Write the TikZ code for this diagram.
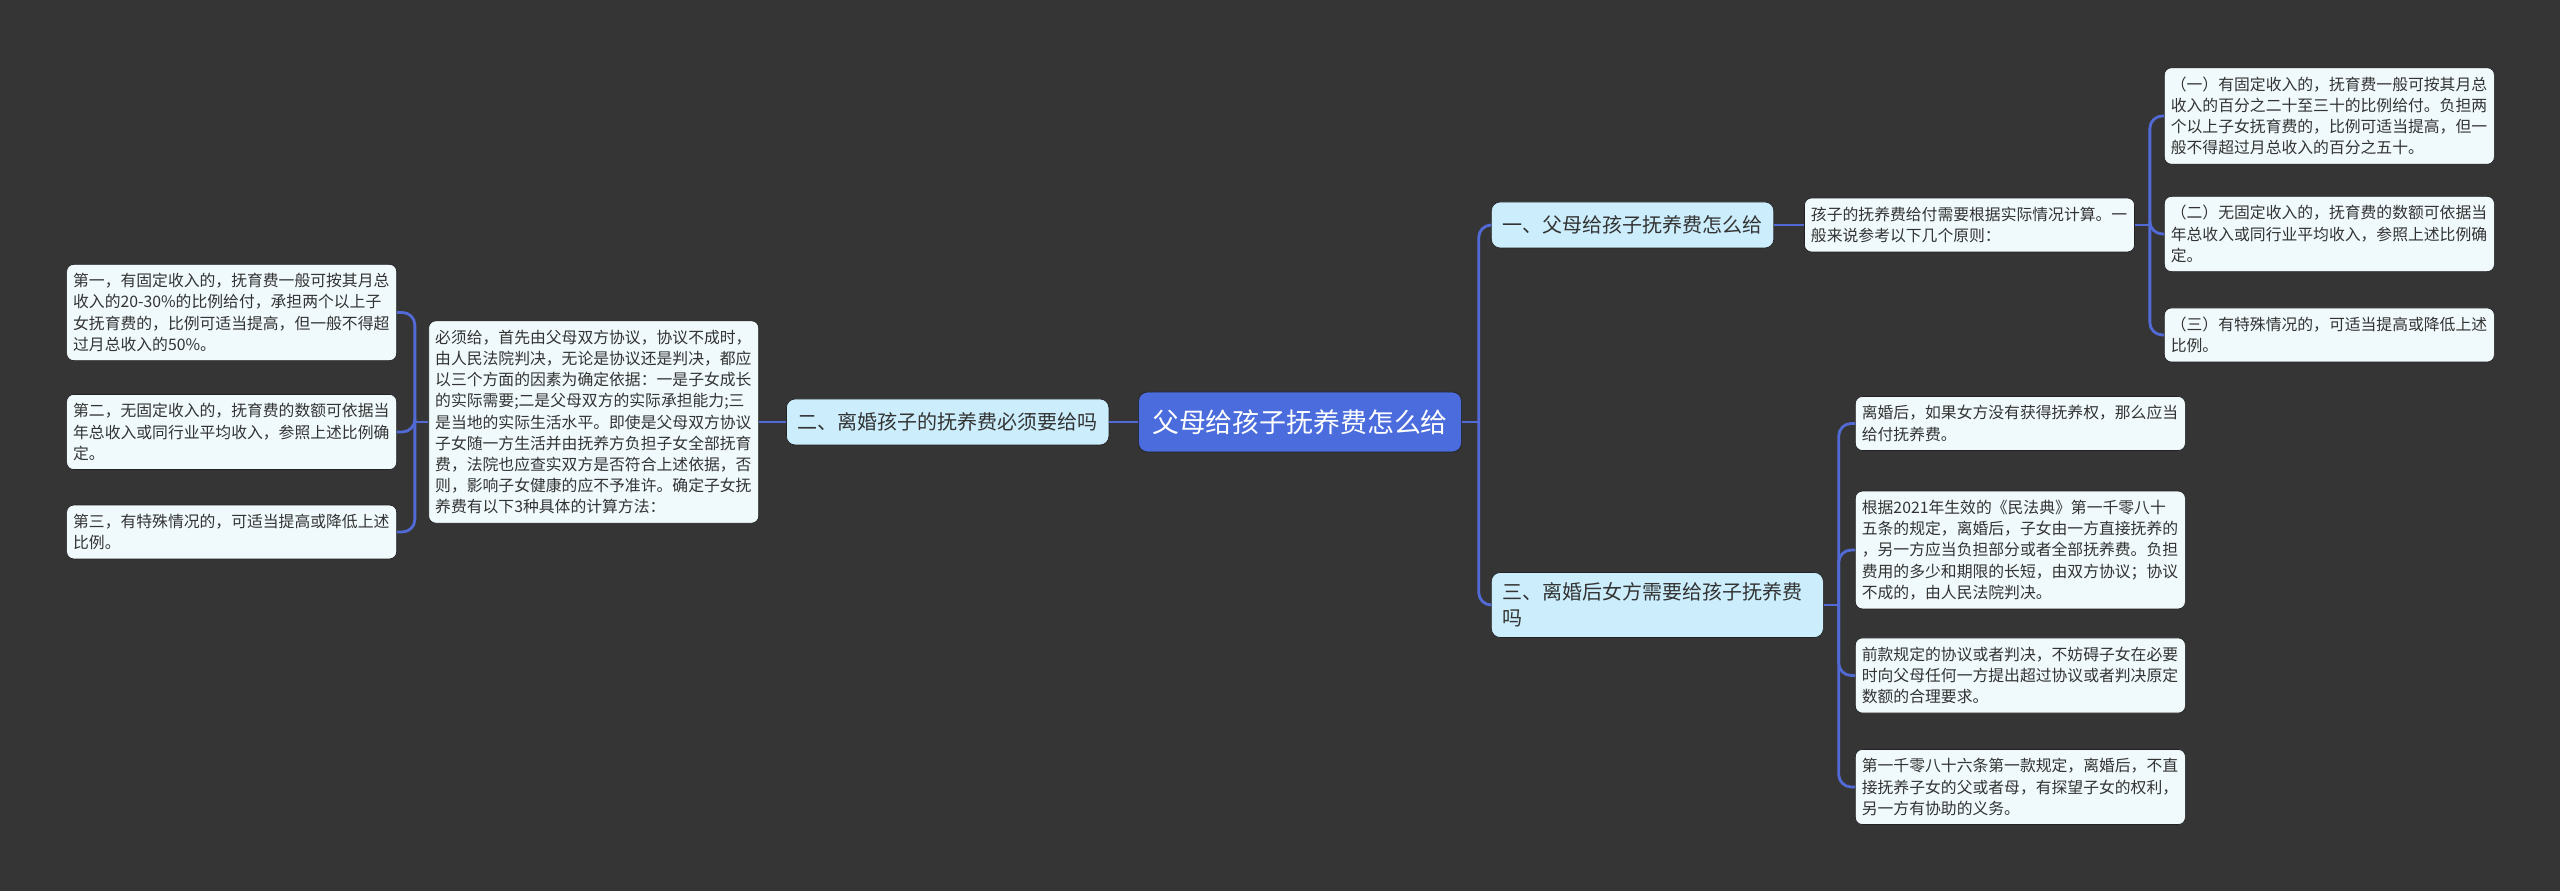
\documentclass[tikz,border=0pt]{standalone}
\usepackage{fontspec}
\setmainfont{Noto Sans CJK SC}
\usetikzlibrary{
  positioning,
  calc
}
\definecolor{canvas}{RGB}{54,53,54}
\definecolor{hub}{RGB}{74,108,220}
\definecolor{link}{RGB}{82,106,214}
\definecolor{topicfill}{RGB}{204,238,252}
\definecolor{leaffill}{RGB}{240,250,252}
\definecolor{ink}{RGB}{51,51,51}
\definecolor{rim}{RGB}{34,34,34}

\begin{document}
\begin{tikzpicture}[
  every node/.style={text=ink},
  hubbox/.style={draw=rim, fill=hub, rounded corners=5pt, text=white,
                 font=\fontsize{15.3}{18}\selectfont,
                 inner xsep=0.27cm, minimum height=1.2cm},
  topicbox/.style={draw=rim, fill=topicfill, rounded corners=5pt, align=left,
                 font=\fontsize{11.4}{15}\selectfont,
                 inner xsep=0.22cm, inner ysep=0.2cm, minimum height=0.92cm},
  leafbox/.style={draw=rim, fill=leaffill, rounded corners=4pt, align=left,
                 font=\fontsize{9}{12.06}\selectfont, text width=6.34cm,
                 inner xsep=0.13cm, inner ysep=0.18cm},
  branch/.style={draw=link, line width=1.6pt, rounded corners=0.25cm}
]

\path[use as bounding box, fill=canvas] (-26,-9.38) rectangle (25.2,8.44);

\node[hubbox] (root) at (0, 0) {父母给孩子抚养费怎么给};

% left branch
\node[topicbox, left=0.58cm of root] (t2) {二、离婚孩子的抚养费必须要给吗};

\node[leafbox, left=0.54cm of t2] (d2) {%
  必须给，首先由父母双方协议，协议不成时，\\
  由人民法院判决，无论是协议还是判决，都应\\
  以三个方面的因素为确定依据：一是子女成长\\
  的实际需要;二是父母双方的实际承担能力;三\\
  是当地的实际生活水平。即使是父母双方协议\\
  子女随一方生活并由抚养方负担子女全部抚育\\
  费，法院也应查实双方是否符合上述依据，否\\
  则，影响子女健康的应不予准许。确定子女抚\\
  养费有以下3种具体的计算方法：};

\node[leafbox, anchor=east] (l1) at (-18.06, 2.19) {%
  第一，有固定收入的，抚育费一般可按其月总\\
  收入的20-30\%的比例给付，承担两个以上子\\
  女抚育费的，比例可适当提高，但一般不得超\\
  过月总收入的50\%。};

\node[leafbox, anchor=east] (l2) at (-18.06, -0.2) {%
  第二，无固定收入的，抚育费的数额可依据当\\
  年总收入或同行业平均收入，参照上述比例确\\
  定。};

\node[leafbox, anchor=east] (l3) at (-18.06, -2.2) {%
  第三，有特殊情况的，可适当提高或降低上述\\
  比例。};

% right branches
\node[topicbox, anchor=west] (t1) at (3.82, 3.94) {一、父母给孩子抚养费怎么给};

\node[leafbox, right=0.6cm of t1] (d1) {%
  孩子的抚养费给付需要根据实际情况计算。一\\
  般来说参考以下几个原则：};

\node[leafbox, anchor=west] (s1) at (17.28, 6.12) {%
  （一）有固定收入的，抚育费一般可按其月总\\
  收入的百分之二十至三十的比例给付。负担两\\
  个以上子女抚育费的，比例可适当提高，但一\\
  般不得超过月总收入的百分之五十。};

\node[leafbox, anchor=west] (s2) at (17.28, 3.76) {%
  （二）无固定收入的，抚育费的数额可依据当\\
  年总收入或同行业平均收入，参照上述比例确\\
  定。};

\node[leafbox, anchor=west] (s3) at (17.28, 1.74) {%
  （三）有特殊情况的，可适当提高或降低上述\\
  比例。};

\node[topicbox, anchor=west, text width=6.2cm] (t3) at (3.82, -3.66) {%
  三、离婚后女方需要给孩子抚养费\\
  吗};

\node[leafbox, anchor=west] (c1) at (11.1, -0.03) {%
  离婚后，如果女方没有获得抚养权，那么应当\\
  给付抚养费。};

\node[leafbox, anchor=west] (c2) at (11.1, -2.56) {%
  根据2021年生效的《民法典》第一千零八十\\
  五条的规定，离婚后，子女由一方直接抚养的\\
  ，另一方应当负担部分或者全部抚养费。负担\\
  费用的多少和期限的长短，由双方协议；协议\\
  不成的，由人民法院判决。};

\node[leafbox, anchor=west] (c3) at (11.1, -5.07) {%
  前款规定的协议或者判决，不妨碍子女在必要\\
  时向父母任何一方提出超过协议或者判决原定\\
  数额的合理要求。};

\node[leafbox, anchor=west] (c4) at (11.1, -7.3) {%
  第一千零八十六条第一款规定，离婚后，不直\\
  接抚养子女的父或者母，有探望子女的权利，\\
  另一方有协助的义务。};

% connectors
\draw[branch] (root.west) -- (t2.east);
\draw[branch] (t2.west) -- (d2.east);
\coordinate (j2) at ($(d2.west)+(-0.27,0)$);
\draw[branch] (d2.west) -- (j2);
\foreach \n in {l1,l2,l3} \draw[branch] (j2) |- (\n.east);

\coordinate (j0) at ($(root.east)+(0.34,0)$);
\draw[branch] (root.east) -- (j0);
\foreach \n in {t1,t3} \draw[branch] (j0) |- (\n.west);

\draw[branch] (t1.east) -- (d1.west);
\coordinate (j1) at ($(d1.east)+(0.3,0)$);
\draw[branch] (d1.east) -- (j1);
\foreach \n in {s1,s2,s3} \draw[branch] (j1) |- (\n.west);

\coordinate (j3) at ($(t3.east)+(0.3,0)$);
\draw[branch] (t3.east) -- (j3);
\foreach \n in {c1,c2,c3,c4} \draw[branch] (j3) |- (\n.west);

\end{tikzpicture}
\end{document}
